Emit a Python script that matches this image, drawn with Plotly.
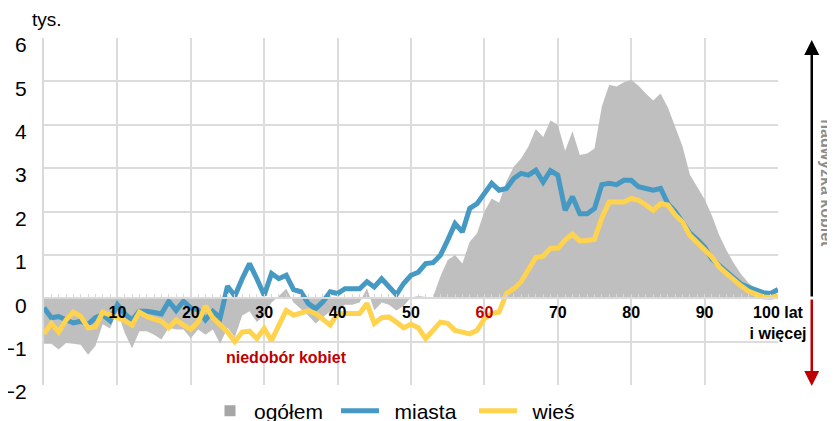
import plotly.graph_objects as go

# wiek 0..100 (100 = 100 lat i więcej), różnica kobiety - mężczyźni w tys.
wiek = list(range(101))

ogolem = [
    -1.05, -1.05, -1.18, -1.03, -1.05, -1.07, -1.30, -1.10, -0.60, -0.70,
    -0.30, -0.80, -1.15, -0.76, -0.76, -0.84, -0.95, -0.68, -0.72, -0.72,
    -0.92, -0.72, -0.84, -0.72, -1.05, -0.68, -0.90, -0.40, -0.30, -0.55,
    -0.40, -0.10, 0.05, 0.22, -0.10, -0.25, -0.40, -0.58, -0.45, -0.30,
    -0.25, -0.15, -0.15, -0.10, 0.23, -0.28, -0.10, -0.15, -0.28, -0.18,
    0.02, 0.05, 0.03, 0.03, 0.50, 0.88, 1.00, 0.80, 1.30, 1.50,
    2.00, 2.30, 2.20, 2.70, 3.03, 3.22, 3.50, 3.90, 3.72, 4.10,
    4.00, 3.40, 3.85, 3.30, 3.34, 3.45, 4.42, 4.92, 4.88, 4.98,
    5.04, 4.90, 4.72, 4.56, 4.72, 4.40, 3.95, 3.50, 2.85, 2.55,
    2.28, 1.90, 1.45, 1.10, 0.80, 0.55, 0.35, 0.20, 0.10, 0.05,
    0.03,
]

miasta = [
    -0.22, -0.45, -0.42, -0.50, -0.57, -0.53, -0.60, -0.45, -0.38, -0.52,
    -0.15, -0.36, -0.50, -0.30, -0.30, -0.33, -0.36, -0.07, -0.28, -0.07,
    -0.22, -0.27, -0.50, -0.30, -0.45, 0.28, 0.05, 0.45, 0.80, 0.45,
    0.07, 0.57, 0.45, 0.53, 0.20, 0.15, -0.12, -0.24, -0.08, 0.15,
    0.11, 0.22, 0.22, 0.22, 0.38, 0.26, 0.45, 0.26, 0.08, 0.34,
    0.53, 0.60, 0.80, 0.82, 0.99, 1.34, 1.72, 1.53, 2.07, 2.18,
    2.42, 2.65, 2.49, 2.53, 2.76, 2.88, 2.84, 2.95, 2.68, 2.94,
    2.84, 2.03, 2.34, 1.95, 1.95, 2.07, 2.62, 2.65, 2.62, 2.72,
    2.72, 2.57, 2.53, 2.49, 2.53, 2.18, 2.00, 1.75, 1.50, 1.35,
    1.18, 0.90, 0.75, 0.60, 0.45, 0.32, 0.25, 0.18, 0.13, 0.11,
    0.20,
]

wies = [
    -0.82, -0.58, -0.78, -0.50, -0.32, -0.42, -0.68, -0.66, -0.32, -0.40,
    -0.45, -0.52, -0.62, -0.32, -0.42, -0.48, -0.53, -0.68, -0.50, -0.62,
    -0.72, -0.55, -0.18, -0.45, -0.62, -0.78, -1.00, -0.78, -0.76, -0.93,
    -0.70, -0.98, -0.62, -0.28, -0.39, -0.35, -0.29, -0.35, -0.47, -0.62,
    -0.35, -0.35, -0.35, -0.35, -0.12, -0.58, -0.45, -0.43, -0.55, -0.68,
    -0.60, -0.68, -0.93, -0.74, -0.55, -0.58, -0.74, -0.78, -0.82, -0.74,
    -0.47, -0.35, -0.32, 0.11, 0.22, 0.38, 0.65, 0.94, 0.97, 1.15,
    1.15, 1.34, 1.48, 1.32, 1.33, 1.36, 1.85, 2.22, 2.22, 2.22,
    2.30, 2.26, 2.15, 2.03, 2.18, 2.15, 1.92, 1.75, 1.45, 1.30,
    1.12, 0.95, 0.72, 0.57, 0.42, 0.28, 0.16, 0.08, 0.03, 0.02,
    0.05,
]

tick_vals = [0, 10, 20, 30, 40, 50, 60, 70, 80, 90, 100]
tick_text = ['', '<b>10</b>', '<b>20</b>', '<b>30</b>', '<b>40</b>', '<b>50</b>',
             '<b><span style="color:#c00000">60</span></b>', '<b>70</b>', '<b>80</b>',
             '<b>90</b>', '<b>100 lat<br>i więcej</b>']

FONT = "Arial, 'Liberation Sans', sans-serif"

fig = go.Figure()

fig.add_trace(go.Scatter(
    x=wiek, y=ogolem, mode='lines', fill='tozeroy',
    fillcolor='#bfbfbf', line=dict(width=0, color='#bfbfbf'),
    showlegend=False, hoverinfo='skip'
))

# znacznik do legendy
fig.add_trace(go.Scatter(
    x=[None], y=[None], mode='markers', name='ogółem', legendwidth=77,
    marker=dict(symbol='square', size=11, color='#a6a6a6')
))

fig.add_trace(go.Scatter(
    x=wiek, y=miasta, mode='lines', name='\u2002miasta', legendwidth=85,
    line=dict(color='#4599c3', width=5)
))

fig.add_trace(go.Scatter(
    x=wiek, y=wies, mode='lines', name='\u2002wieś', legendwidth=80,
    line=dict(color='#ffd34e', width=5)
))

# strona ma 8 px marginesu, więc wykres jest o 8 px mniejszy
fig.update_layout(
    width=827, height=413,
    margin=dict(l=36, r=57, t=30, b=36, autoexpand=False),
    paper_bgcolor='white', plot_bgcolor='white',
    font=dict(family=FONT, color='black'),
    showlegend=True,
    legend=dict(
        orientation='h', x=(206 - 44) / 734, xanchor='left', y=-0.075, yanchor='middle',
        font=dict(size=21, family=FONT), itemwidth=38
    ),
    xaxis=dict(
        range=[0, 100], anchor='free', position=0.25, automargin=False,
        tickmode='array', tickvals=tick_vals, ticktext=tick_text,
        tickfont=dict(size=16, family=FONT, color='black'),
        showgrid=True, gridcolor='#dcdcdc', gridwidth=1.5,
        showline=True, linecolor='#d9d9d9', linewidth=2,
        ticks='inside', ticklen=3, tickcolor='#d9d9d9',
        minor=dict(dtick=1, ticks='inside', ticklen=3, tickcolor='#d9d9d9', showgrid=False),
        zeroline=False, fixedrange=True
    ),
    yaxis=dict(
        range=[-2, 6], dtick=1, tick0=0, automargin=False,
        tickfont=dict(size=21, family=FONT, color='black'),
        showgrid=True, gridcolor='#dcdcdc', gridwidth=1.5,
        showline=True, linecolor='#d9d9d9', linewidth=2,
        zeroline=False, ticks='', ticklabelstandoff=11, ticklabelshift=7,
        fixedrange=True
    ),
)

annotations = [
    dict(text='tys.', xref='paper', yref='paper', x=0.004, y=1.052,
         xanchor='center', yanchor='middle', showarrow=False,
         font=dict(size=19, family=FONT, color='black')),
    dict(text='<b>niedobór kobiet</b>', xref='x', yref='y', x=33.1, y=-1.36,
         xanchor='center', yanchor='middle', showarrow=False,
         font=dict(size=16, family=FONT, color='#c00000')),
    dict(text='<b>nadwyżka kobiet</b>', xref='paper', yref='paper', x=1.066, y=0.58,
         xanchor='center', yanchor='middle', textangle=90, showarrow=False,
         font=dict(size=16, family=FONT, color='#8c8c8c')),
    # strzałki po prawej stronie
    dict(text='', xref='paper', yref='paper', x=1.046, y=(385 - 40) / 347,
         ax=0, ay=258, showarrow=True, arrowhead=2, arrowsize=1.2,
         arrowwidth=2.5, arrowcolor='black'),
    dict(text='', xref='paper', yref='paper', x=1.046, y=(385 - 386) / 347,
         ax=0, ay=-88, showarrow=True, arrowhead=2, arrowsize=1.2,
         arrowwidth=2.5, arrowcolor='#c00000'),
]
fig.update_layout(annotations=annotations)

fig.write_html("out.html")
